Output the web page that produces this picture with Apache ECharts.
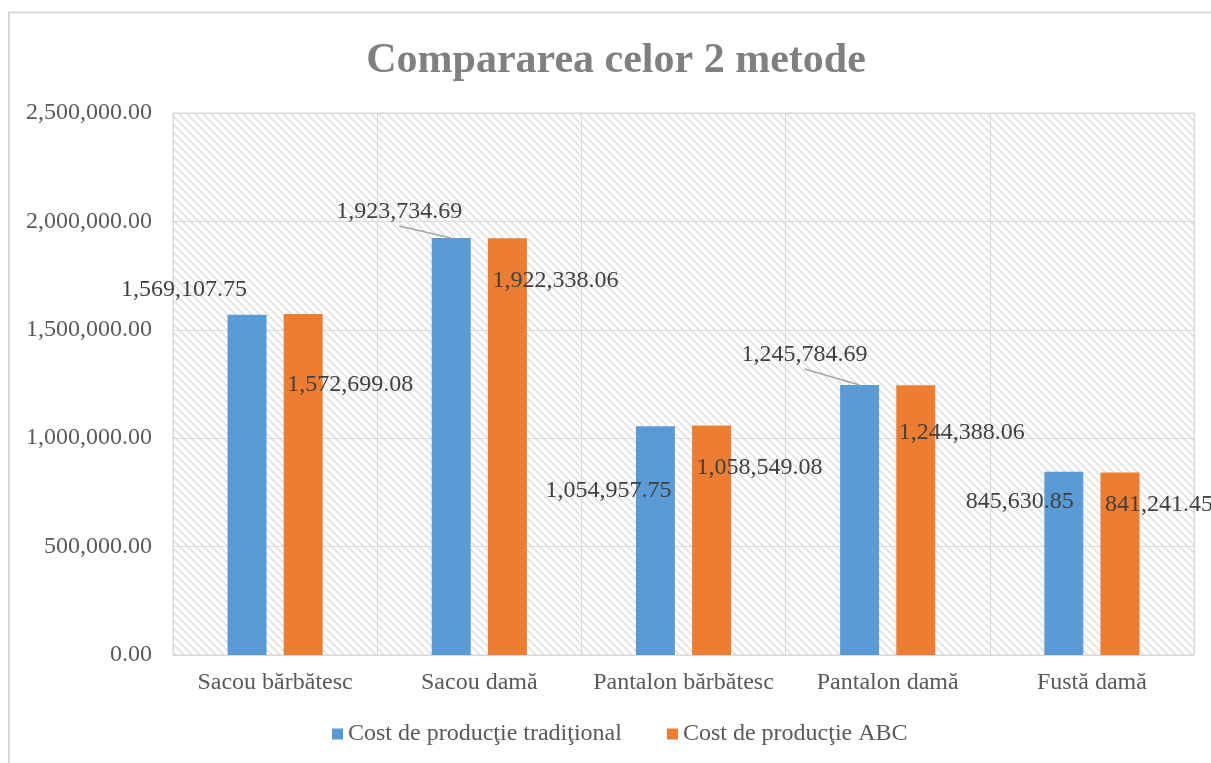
<!DOCTYPE html>
<html>
<head>
<meta charset="utf-8">
<script src="https://cdn.jsdelivr.net/npm/echarts@6/dist/echarts.min.js"></script>
<style>
  html, body { margin: 0; padding: 0; background: #ffffff; }
  #chart { width: 1211px; height: 763px; }
</style>
</head>
<body>
<div id="chart"></div>
<script>
// ---- data ----
const categories = ['Sacou bărbătesc', 'Sacou damă', 'Pantalon bărbătesc', 'Pantalon damă', 'Fustă damă'];
const seriesNames = ['Cost de producţie tradiţional', 'Cost de producţie ABC'];
const traditional = [1569107.75, 1923734.69, 1054957.75, 1245784.69, 845630.85];
const abc = [1572699.08, 1922338.06, 1058549.08, 1244388.06, 841241.45];
const yMin = 0;
const yMax = 2500000;
const yInterval = 500000;

// label centre relative to the top centre of its bar, in px
const tradLabelOffsets = [[-63, -25], [-52, -26], [-47, 64], [-55, -30], [-44, 30]];
const abcLabelOffsets = [[47, 71], [48, 42], [48, 42], [46, 47], [39, 32]];
// which labels of the first series get a leader line to their bar
const tradLeader = [false, true, false, true, false];

const FONT = '"Liberation Serif", "Times New Roman", serif';
const fmt = v => Number(v).toLocaleString('en-US', { minimumFractionDigits: 2, maximumFractionDigits: 2 });

// diagonal hatch fill for the plot area (downward stripes)
function hatch() {
  const c = document.createElement('canvas');
  c.width = 8; c.height = 8;
  const ctx = c.getContext('2d');
  ctx.fillStyle = '#ffffff';
  ctx.fillRect(0, 0, 8, 8);
  for (let y = 0; y < 8; y++) {
    for (let x = 0; x < 8; x++) {
      const d = ((x - y) % 8 + 8) % 8;
      if (d < 3) {
        ctx.fillStyle = d === 1 ? '#dcdcdc' : '#ececec';
        ctx.fillRect(x, y, 1, 1);
      }
    }
  }
  return c;
}

const chart = echarts.init(document.getElementById('chart'), null, { renderer: 'canvas' });

function labelLayout(params) {
  const offs = params.seriesIndex === 0 ? tradLabelOffsets : abcLabelOffsets;
  const o = offs[params.dataIndex];
  const cx = params.rect.x + params.rect.width / 2;
  return {
    x: cx + o[0],
    y: params.rect.y + o[1],
    align: 'center',
    verticalAlign: 'middle'
  };
}

function makeSeries(name, values, color) {
  return {
    name: name,
    type: 'bar',
    barWidth: 39,
    barGap: '44%',
    itemStyle: { color: color },
    label: {
      show: true,
      position: 'top',
      distance: 0,
      formatter: p => fmt(p.value),
      color: '#404040',
      fontFamily: FONT,
      fontSize: 24
    },
    labelLayout: labelLayout,
    data: values
  };
}

const baseGraphic = [
  {
    id: 'frame',
    type: 'rect',
    shape: { x: 9, y: 12.5, width: 1400, height: 900 },
    style: { fill: 'none', stroke: '#d9d9d9', lineWidth: 2 },
    silent: true
  },
  {
    id: 'title',
    type: 'text',
    x: 616,
    y: 61,
    style: {
      text: 'Compararea celor 2 metode',
      fill: '#808080',
      font: 'bold 42px ' + FONT,
      textAlign: 'center',
      textVerticalAlign: 'middle'
    }
  }
];

chart.setOption({
  animation: false,
  backgroundColor: '#ffffff',
  graphic: baseGraphic,
  legend: {
    left: 327,
    top: 717,
    icon: 'rect',
    itemWidth: 11,
    itemHeight: 11,
    itemGap: 45,
    textStyle: { color: '#595959', fontFamily: FONT, fontSize: 24 },
    data: seriesNames
  },
  grid: {
    left: 173,
    right: 17,
    top: 113,
    bottom: 108,
    show: true,
    borderColor: '#d9d9d9',
    borderWidth: 1,
    backgroundColor: { image: hatch(), repeat: 'repeat' }
  },
  xAxis: {
    type: 'category',
    data: categories,
    axisLine: { lineStyle: { color: '#d9d9d9', width: 1 } },
    axisTick: { show: false },
    splitLine: { show: true, lineStyle: { color: '#d9d9d9', width: 1 } },
    axisLabel: { interval: 0, color: '#595959', fontFamily: FONT, fontSize: 24, margin: 16 }
  },
  yAxis: {
    type: 'value',
    min: yMin,
    max: yMax,
    interval: yInterval,
    axisLine: { show: false },
    axisTick: { show: false },
    splitLine: { lineStyle: { color: '#d9d9d9', width: 1 } },
    axisLabel: { color: '#595959', fontFamily: FONT, fontSize: 24, margin: 21, formatter: v => fmt(v) }
  },
  series: [
    makeSeries(seriesNames[0], traditional, '#5b9bd5'),
    makeSeries(seriesNames[1], abc, '#ed7d31')
  ]
});

// leader lines: from the bottom of a moved label to the top centre of its bar
const barData = chart.getModel().getSeriesByIndex(0).getData();
const leaders = [];
tradLeader.forEach((on, i) => {
  if (!on) return;
  const l = barData.getItemLayout(i);
  const cx = l.x + l.width / 2;
  const top = Math.min(l.y, l.y + l.height);
  const lx = cx + tradLabelOffsets[i][0];
  const ly = top + tradLabelOffsets[i][1] + 14;
  leaders.push({
    id: 'leader' + i,
    type: 'line',
    shape: { x1: lx, y1: ly, x2: cx, y2: top },
    style: { stroke: '#a6a6a6', lineWidth: 1.5 },
    z: 10,
    silent: true
  });
});
chart.setOption({ graphic: baseGraphic.concat(leaders) });
</script>
</body>
</html>
